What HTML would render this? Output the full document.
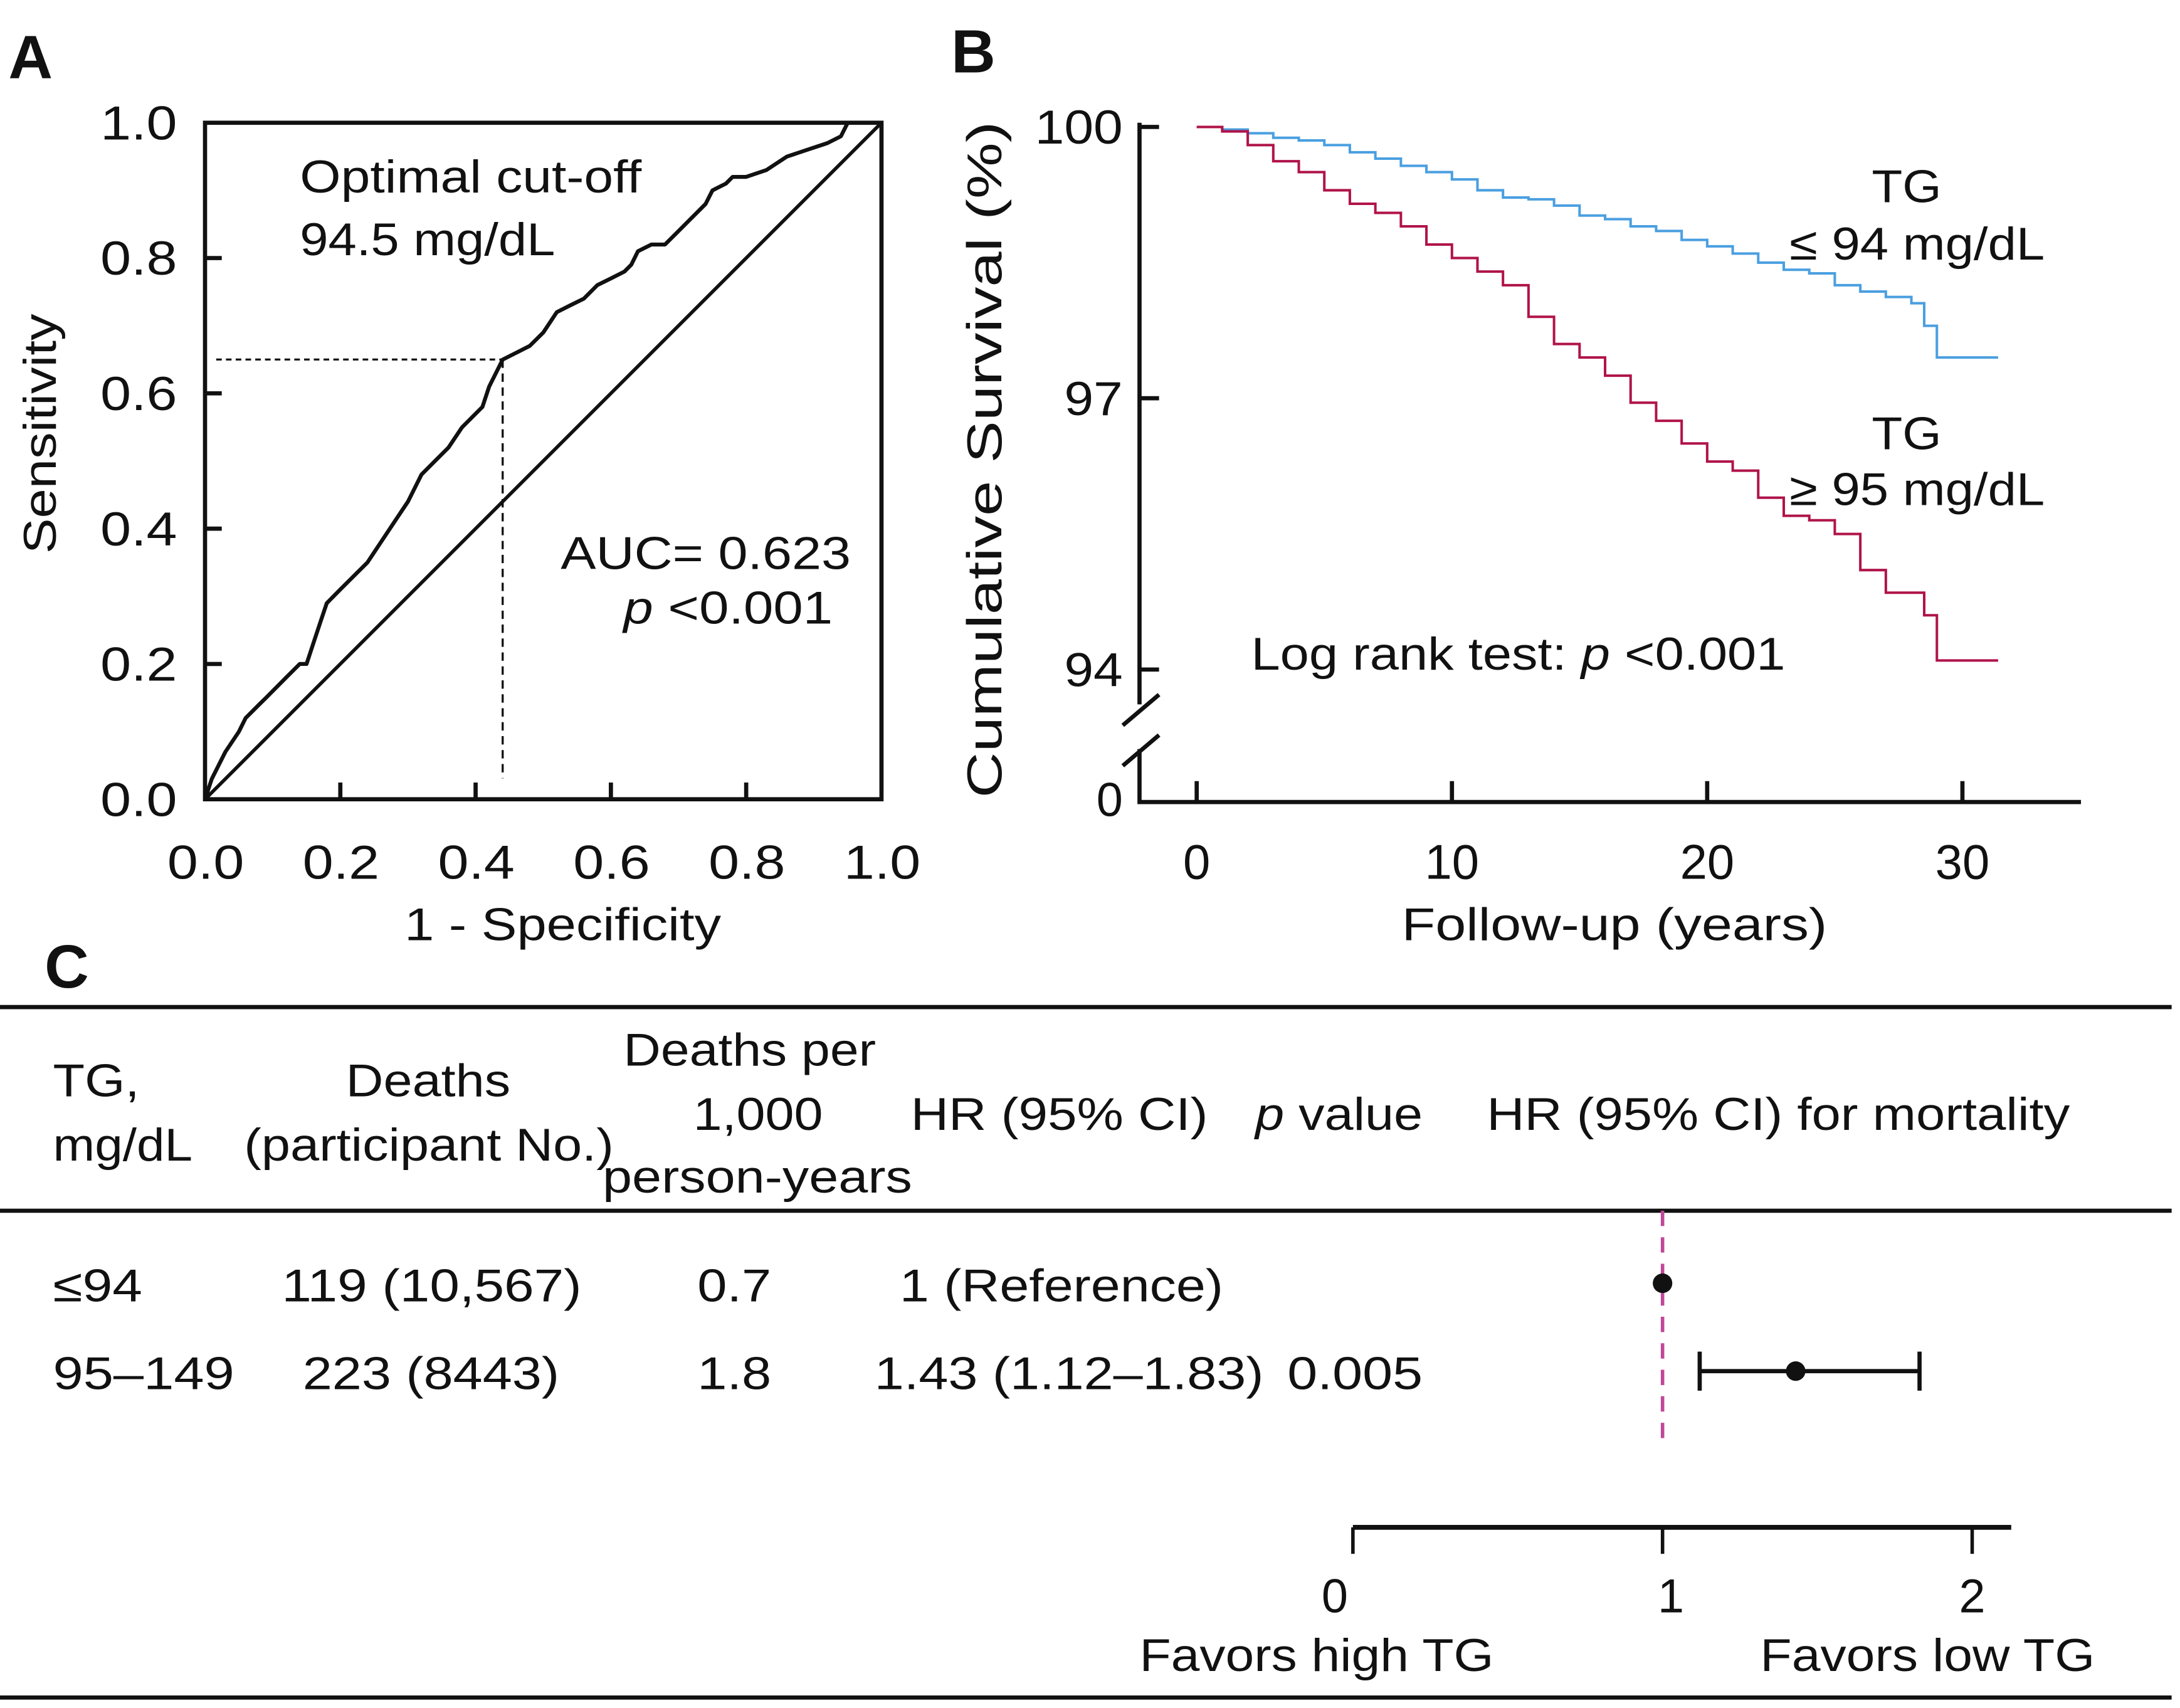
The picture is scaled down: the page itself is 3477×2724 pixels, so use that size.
<!DOCTYPE html>
<html><head><meta charset="utf-8"><style>
html,body{margin:0;padding:0;background:#fff;}
svg{display:block;}
text{font-family:"Liberation Sans",sans-serif;fill:#111;}
</style></head><body>
<svg id="fig" width="3477" height="2724" viewBox="0 0 1563 1224.5" xmlns="http://www.w3.org/2000/svg">
<rect width="1563" height="1224.5" fill="#fff"/>
<g id="pa"></g>
<g id="pb"></g>
<g id="pc"></g>
</svg>
<script>
// Panel A data
const rocFpr = [0,0.01,0.03,0.05,0.06,0.08,0.09,0.11,0.12,0.14,0.15,0.16,0.17,0.18,0.2,0.22,0.24,0.26,0.28,0.3,0.32,0.34,0.36,0.38,0.4,0.41,0.42,0.44,0.46,0.48,0.5,0.52,0.54,0.56,0.58,0.6,0.62,0.63,0.64,0.66,0.68,0.7,0.72,0.74,0.75,0.77,0.78,0.8,0.83,0.86,0.89,0.92,0.94,0.95,1];
const rocTpr = [0,0.03,0.07,0.1,0.12,0.14,0.15,0.17,0.18,0.2,0.2,0.23,0.26,0.29,0.31,0.33,0.35,0.38,0.41,0.44,0.48,0.5,0.52,0.55,0.57,0.58,0.61,0.65,0.66,0.67,0.69,0.72,0.73,0.74,0.76,0.77,0.78,0.79,0.81,0.82,0.82,0.84,0.86,0.88,0.9,0.91,0.92,0.92,0.93,0.95,0.96,0.97,0.98,1.0,1];
const rocTicks = [0,0.2,0.4,0.6,0.8,1.0];
const rocTickLabels = ["0.0","0.2","0.4","0.6","0.8","1.0"];
const cutFpr = 0.44, cutTpr = 0.65;
// Panel B data
const blueT = [0,1,2,3,4,5,6,7,8,9,10,11,12,13,14,15,16,17,18,19,20,21,22,23,24,25,26,27,28,28.5,29,31.4];
const blueS = [100,99.97,99.93,99.88,99.85,99.8,99.72,99.65,99.57,99.5,99.42,99.3,99.22,99.2,99.13,99.02,98.98,98.9,98.85,98.75,98.68,98.6,98.5,98.42,98.38,98.25,98.18,98.12,98.05,97.8,97.45,97.45];
const redT = [0,1,2,3,4,5,6,7,8,9,10,11,12,13,14,15,16,17,18,19,20,21,22,23,24,25,26,27,28,28.5,29,31.4];
const redS = [100,99.95,99.8,99.62,99.5,99.3,99.15,99.05,98.9,98.7,98.55,98.4,98.25,97.9,97.6,97.45,97.25,96.95,96.75,96.5,96.3,96.2,95.9,95.7,95.65,95.5,95.1,94.85,94.85,94.6,94.1,94.1];
const kmXTicks = [0,10,20,30];
const kmYTicks = [100,97,94];
// Panel C data
const hrLabels = ["≤94","95–149"];
const hrValues = [1,1.43];
const hrLow = [null,1.12];
const hrHigh = [null,1.83];
const forestTicks = [0,1,2];

const NS="http://www.w3.org/2000/svg";
function mk(parent,tag,attrs,txt){const e=document.createElementNS(NS,tag);for(const k in attrs)e.setAttribute(k,attrs[k]);if(txt!==undefined)e.textContent=txt;parent.appendChild(e);return e;}
function fit(e,w){e.setAttribute('textLength',w);e.setAttribute('lengthAdjust','spacingAndGlyphs');return e;}

// ---- Panel A ----
const pa=document.getElementById('pa');
const ax=v=>147+v*485, ay=v=>573-v*485;
let t=mk(pa,'text',{x:6,y:56,'font-size':44,'font-weight':'bold'},'A');


let r=mk(pa,'rect',{x:147,y:88,width:485,height:485,fill:'none',stroke:'#111','stroke-width':3});


rocTicks.forEach((v,i)=>{
  if(v>0&&v<1){
    let l=mk(pa,'line',{x1:147,x2:159,y1:ay(v),y2:ay(v),stroke:'#111','stroke-width':3});
    
    
    let l2=mk(pa,'line',{x1:ax(v),x2:ax(v),y1:573,y2:561,stroke:'#111','stroke-width':3});
    
    
  }
  let ty=fit(mk(pa,'text',{x:72,y:ay(v)+12,'font-size':34},rocTickLabels[i]),55);
  
  
  let tx=fit(mk(pa,'text',{x:ax(v)-27,y:630,'font-size':34},rocTickLabels[i]),55);
  
  
});
t=fit(mk(pa,'text',{x:290,y:674,'font-size':33},'1 - Specificity'),227);


t=fit(mk(pa,'text',{x:-86,y:0,'font-size':33,transform:'translate(40,311) rotate(-90)'},'Sensitivity'),172);


let dg=mk(pa,'line',{x1:ax(0),y1:ay(0),x2:ax(1),y2:ay(1),stroke:'#111','stroke-width':2.5});


let rp=mk(pa,'path',{d:rocFpr.map((f,i)=>(i?'L':'M')+ax(f).toFixed(1)+','+ay(rocTpr[i]).toFixed(1)).join(''),fill:'none',stroke:'#111','stroke-width':2.8,'stroke-linejoin':'round'});


let dh=mk(pa,'line',{x1:155,x2:ax(cutFpr),y1:ay(cutTpr),y2:ay(cutTpr),stroke:'#111','stroke-width':1.5,'stroke-dasharray':'4,3'});


let dv=mk(pa,'line',{x1:ax(cutFpr),x2:ax(cutFpr),y1:ay(cutTpr),y2:558,stroke:'#111','stroke-width':1.5,'stroke-dasharray':'6,4'});


t=fit(mk(pa,'text',{x:215,y:138,'font-size':33},'Optimal cut-off'),245);


t=fit(mk(pa,'text',{x:215,y:183,'font-size':33},'94.5 mg/dL'),183);


t=fit(mk(pa,'text',{x:402,y:408,'font-size':33},'AUC=  0.623'),208);


t=mk(pa,'text',{x:447,y:447,'font-size':33});


fit(t,150);
mk(t,'tspan',{'font-style':'italic'},'p');mk(t,'tspan',{},' <0.001');

// ---- Panel B ----
const pb=document.getElementById('pb');
const bx=v=>858+v*18.3, by=v=>91+(100-v)*(389/6);
t=mk(pb,'text',{x:682,y:52,'font-size':44,'font-weight':'bold'},'B');


let a1=mk(pb,'path',{d:'M817,88 L817,505 M817,537 L817,575 L1492,575',fill:'none',stroke:'#111','stroke-width':3});


let br=mk(pb,'path',{d:'M805,520 L831,498 M805,549 L831,527',fill:'none',stroke:'#111','stroke-width':3});


kmYTicks.forEach(v=>{
  let l=mk(pb,'line',{x1:817,x2:831,y1:by(v),y2:by(v),stroke:'#111','stroke-width':3});
  
  
  const s=String(v);
  let tt=fit(mk(pb,'text',{x:805-s.length*21,y:by(v)+12,'font-size':34},s),s.length*21);
  
  
});
t=mk(pb,'text',{x:805,y:585,'font-size':34,'text-anchor':'end'},'0');


kmXTicks.forEach(v=>{
  let l=mk(pb,'line',{x1:bx(v),x2:bx(v),y1:575,y2:560,stroke:'#111','stroke-width':3});
  
  
  let tt=mk(pb,'text',{x:bx(v),y:630,'font-size':35,'text-anchor':'middle'},String(v));
  
  
});
t=fit(mk(pb,'text',{x:1005,y:674,'font-size':33},'Follow-up  (years)'),305);


t=fit(mk(pb,'text',{x:-242,y:0,'font-size':35,transform:'translate(718,330) rotate(-90)'},'Cumulative  Survival  (%)'),485);


function step(T,S){let d='M'+bx(T[0])+','+by(S[0]);for(let i=1;i<T.length;i++){d+='H'+bx(T[i]).toFixed(1)+'V'+by(S[i]).toFixed(1);}return d;}
let bc=mk(pb,'path',{d:step(blueT,blueS),fill:'none',stroke:'#4a9fe0','stroke-width':1.8});


let rc=mk(pb,'path',{d:step(redT,redS),fill:'none',stroke:'#b0134a','stroke-width':1.8});


[['TG',1342,145,50],['≤ 94 mg/dL',1283,186,183],['TG',1342,322,50],['≥ 95 mg/dL',1283,362,183]].forEach((a,i)=>{
  let tt=fit(mk(pb,'text',{x:a[1],y:a[2],'font-size':33},a[0]),a[3]);
  
  
});
t=mk(pb,'text',{x:897,y:480,'font-size':33});


fit(t,383);
mk(t,'tspan',{},'Log rank test: ');mk(t,'tspan',{'font-style':'italic'},'p');mk(t,'tspan',{},' <0.001');

// ---- Panel C ----
const pc=document.getElementById('pc');
const fx=v=>970+v*222;
t=mk(pc,'text',{x:32,y:708,'font-size':44,'font-weight':'bold'},'C');


[722,868,1217].forEach((y,i)=>{
  let l=mk(pc,'line',{x1:0,x2:1557,y1:y,y2:y,stroke:'#111','stroke-width':3});
  
  
});
const hdr=[['TG,',38,786,62],['mg/dL',38,832,100],['Deaths',248,786,118],['(participant No.)',175,832,265],['Deaths per',447,764,181],['1,000',497,810,93],['person-years',432,855,222],['HR  (95% CI)',653,810,213],['HR  (95% CI) for mortality',1066,810,418]];
hdr.forEach(h=>{
  let tt=fit(mk(pc,'text',{x:h[1],y:h[2],'font-size':33},h[0]),h[3]);
  
  
});
t=mk(pc,'text',{x:900,y:810,'font-size':33});


fit(t,120);
mk(t,'tspan',{'font-style':'italic'},'p');mk(t,'tspan',{},' value');
const rowsTxt=[[['≤94',38,64],['119 (10,567)',202,215],['0.7',500,53],['1 (Reference)',645,232]],
 [['95–149',38,130],['223 (8443)',217,184],['1.8',500,53],['1.43 (1.12–1.83)',627,279],['0.005',923,97]]];
const rowY=[933,996];
rowsTxt.forEach((row,ri)=>row.forEach(c=>{
  let tt=fit(mk(pc,'text',{x:c[1],y:rowY[ri],'font-size':33},c[0]),c[2]);
  
  
}));
let ref=mk(pc,'line',{x1:fx(1),x2:fx(1),y1:868,y2:1036,stroke:'#c0479a','stroke-width':2.5,'stroke-dasharray':'11,8'});


const markY=[920,983];
hrValues.forEach((v,i)=>{
  if(hrLow[i]!==null){
    let ci=mk(pc,'path',{d:`M${fx(hrLow[i])},${markY[i]-14}V${markY[i]+14}M${fx(hrLow[i])},${markY[i]}H${fx(hrHigh[i])}M${fx(hrHigh[i])},${markY[i]-14}V${markY[i]+14}`,fill:'none',stroke:'#111','stroke-width':3});
    
    
  }
  let c=mk(pc,'circle',{cx:fx(v),cy:markY[i],r:7,fill:'#111'});
  
  
});
let fa=mk(pc,'line',{x1:970,x2:1442,y1:1095,y2:1095,stroke:'#111','stroke-width':3.5});


forestTicks.forEach(v=>{
  let l=mk(pc,'line',{x1:fx(v),x2:fx(v),y1:1095,y2:1114,stroke:'#111','stroke-width':2.5});
  
  
  let tt=mk(pc,'text',{x:fx(v)+(v===0?-13:v===1?6:0),y:1156,'font-size':34,'text-anchor':'middle'},String(v));
  
  
});
t=fit(mk(pc,'text',{x:817,y:1198,'font-size':33},'Favors high TG'),254);


t=fit(mk(pc,'text',{x:1262,y:1198,'font-size':33},'Favors low TG'),240);


</script>
</body></html>
